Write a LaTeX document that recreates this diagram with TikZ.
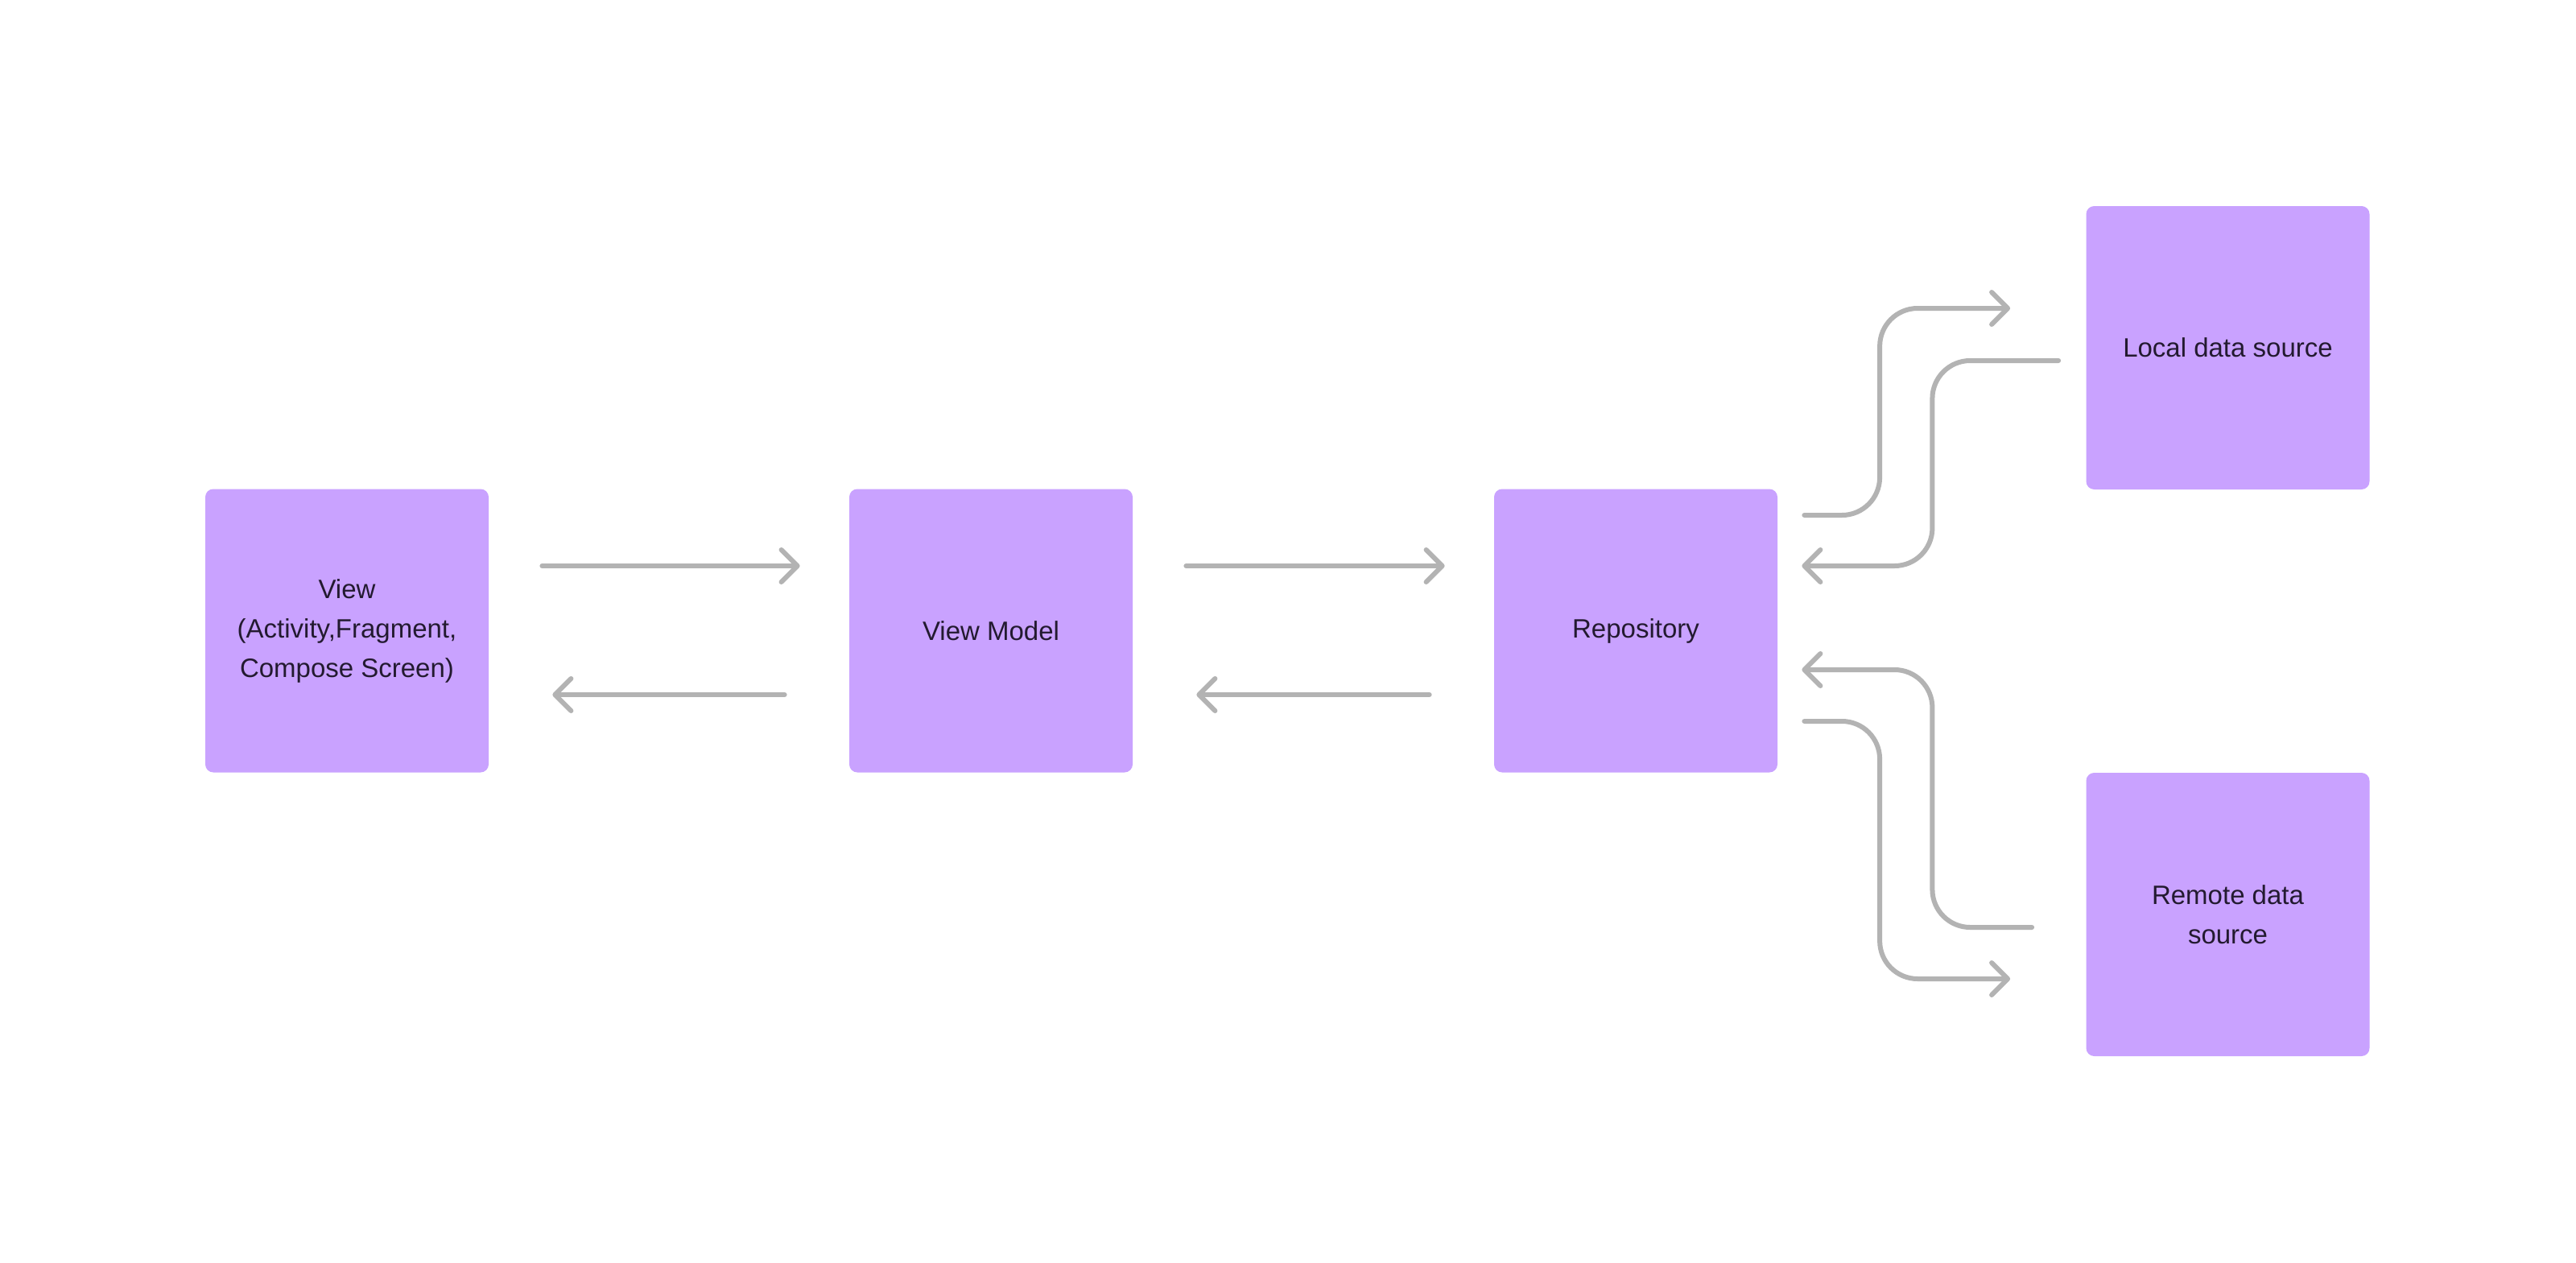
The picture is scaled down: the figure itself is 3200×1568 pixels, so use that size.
\documentclass[tikz,border=0pt]{standalone}
\usepackage{fontspec}
\setmainfont{Liberation Sans}
\usetikzlibrary{arrows.meta}
\usetikzlibrary{calc}

\definecolor{layerfill}{HTML}{C9A2FF}
\definecolor{flowgray}{HTML}{B3B3B3}
\definecolor{labelink}{HTML}{231A30}

\tikzset{
  layer/.style={fill=layerfill, rounded corners=5pt, minimum width=176pt, minimum height=176pt,
    inner sep=0pt, align=center, text=labelink, font=\fontsize{16.5pt}{24.5pt}\selectfont},
  flow/.style={draw=flowgray, line width=3pt, line cap=round,
    -{Straight Barb[length=10pt,width=20pt,round]}},
  feed/.style={flow, rounded corners=23.5pt}
}

\begin{document}
\begin{tikzpicture}[x=0.5pt, y=-0.5pt]
      % Canvas
      \fill[white] (0,0) rectangle (3200,1568);
      \useasboundingbox (0,0) rectangle (3200,1568);

      % Define layer centres
      \coordinate (V) at (431,783.5);
      \coordinate (M) at (1231,783.5);
      \coordinate (R) at (2032,783.5);
      \coordinate (L) at (2767.5,432);
      \coordinate (D) at (2767.5,1136);

      % Draw the layers
      \node[layer] (view) at (V) {View\\(Activity,Fragment,\\Compose Screen)};
      \node[layer] (viewmodel) at (M) {View Model};
      \node[layer] (repo) at (R) {Repository};
      \node[layer] (local) at (L) {Local data source};
      \node[layer] (remote) at (D) {Remote data\\source};

      % Straight arrows
      \draw[flow] ($(view.east)+(66,-80.5)$) -- ($(viewmodel.west)+(-61,-80.5)$);
      \draw[flow] ($(viewmodel.west)+(-80,79.5)$) -- ($(view.east)+(79,79.5)$);
      \draw[flow] ($(viewmodel.east)+(66,-80.5)$) -- ($(repo.west)+(-61,-80.5)$);
      \draw[flow] ($(repo.west)+(-80,79.5)$) -- ($(viewmodel.east)+(79,79.5)$);

      % Bent arrows to the data sources
      \draw[feed] ($(repo.east)+(33,-143.5)$) -| ($(local.west)+(-256,-49)$) -- ($(local.west)+(-94,-49)$);
      \draw[feed] ($(local.west)+(-34,16)$) -| ($(repo.east)+(192,-80.5)$) -- ($(repo.east)+(30,-80.5)$);
      \draw[feed] ($(remote.west)+(-67,16)$) -| ($(repo.east)+(192,48.5)$) -- ($(repo.east)+(30,48.5)$);
      \draw[feed] ($(repo.east)+(33,112.5)$) -| ($(remote.west)+(-256,80)$) -- ($(remote.west)+(-94,80)$);
\end{tikzpicture}
\end{document}
